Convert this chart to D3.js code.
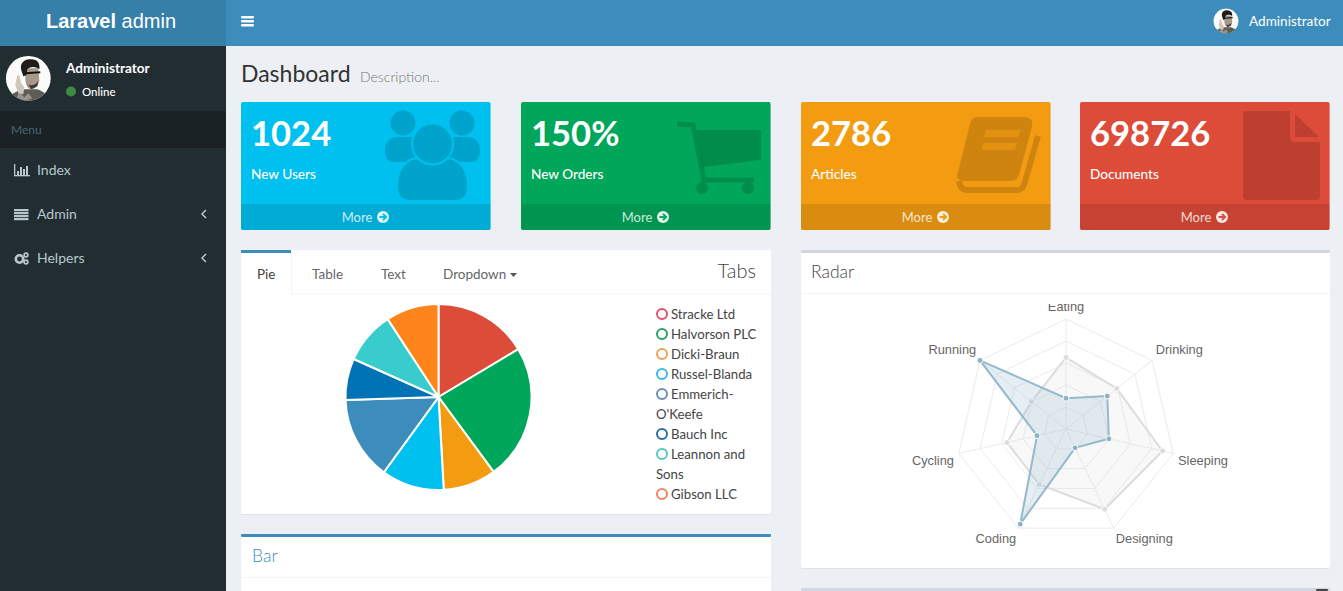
<!DOCTYPE html>
<html>
<head>
<meta charset="utf-8">
<title>Laravel admin</title>
<script src="https://cdn.jsdelivr.net/npm/d3@7"></script>
<style>
    html, body { margin: 0; padding: 0; background: #ecf0f5; overflow: hidden; }
    svg { display: block; }
    text { font-family: Lato, "Noto Sans", sans-serif; }
    .chart-label { font-family: "Liberation Sans", Arial, sans-serif; font-size: 12.8px; fill: #666; }
</style>
</head>
<body>
<script>
// Stat boxes
const statValues = ["1024", "150%", "2786", "698726"];
const statLabels = ["New Users", "New Orders", "Articles", "Documents"];
const statColors = ["#00c0ef", "#00a65a", "#f39c12", "#dd4b39"];

// Sidebar menu
const menuLabels = ["Index", "Admin", "Helpers"];

// Pie (shares, in percent)
const pieLabels = ["Stracke Ltd", "Halvorson PLC", "Dicki-Braun", "Russel-Blanda", "Emmerich-O'Keefe", "Bauch Inc", "Leannon and Sons", "Gibson LLC"];
const pieValues = [16.4, 23.5, 9.2, 10.9, 14.5, 7.2, 9.1, 9.2];
const pieColors = ["#dd4b39", "#00a65a", "#f39c12", "#00c0ef", "#3c8dbc", "#0073b7", "#39cccc", "#ff851b"];
const legendColors = ["#e2526b", "#2e9e68", "#f0a05a", "#3fb5ec", "#6f8db5", "#2a6ea8", "#55c8c0", "#ee8566"];
const legendLines = [["Stracke Ltd"], ["Halvorson PLC"], ["Dicki-Braun"], ["Russel-Blanda"], ["Emmerich-", "O'Keefe"], ["Bauch Inc"], ["Leannon and", "Sons"], ["Gibson LLC"]];

// Radar
const radarLabels = ["Eating", "Drinking", "Sleeping", "Designing", "Coding", "Cycling", "Running"];
const radarSeriesA = [65, 59, 90, 81, 56, 55, 40];
const radarSeriesB = [28, 48, 40, 19, 96, 27, 100];
const radarTicks = [20, 40, 60, 80, 100];

var width = 1343, height = 591;

var svg = d3.select("body").append("svg")
    .attr("width", width)
    .attr("height", height);

function addRect(parent, x, y, w, h, fill, rx) {
    return parent.append("rect")
        .attr("x", x).attr("y", y)
        .attr("width", w).attr("height", h)
        .attr("rx", rx || 0)
        .attr("fill", fill);
}

function addText(parent, x, y, str, size, fill, weight, anchor) {
    return parent.append("text")
        .attr("x", x).attr("y", y)
        .attr("font-size", size)
        .attr("font-weight", weight || 400)
        .attr("text-anchor", anchor || "start")
        .attr("fill", fill)
        .text(str);
}

// Small portrait, there is no photo file to load
function drawAvatar(parent, cx, cy, r, clipId) {
    parent.append("clipPath").attr("id", clipId)
        .append("circle").attr("cx", cx).attr("cy", cy).attr("r", r);
    var g = parent.append("g")
        .attr("clip-path", "url(#" + clipId + ")")
        .append("g")
        .attr("transform", "translate(" + cx + "," + cy + ") scale(" + r / 22.4 + ")");
    g.append("circle").attr("r", 23).attr("fill", "#fbfbfa");
    // shoulders
    g.append("path").attr("d", "M-20 24 C-18 14 -10 12 -3 11 L9 11 C15 13 20 16 20 24 Z").attr("fill", "#5f5b55");
    g.append("path").attr("d", "M-9 14 L-4 19 L0 15 L4 20 L-4 23 L-12 20 Z").attr("fill", "#9a948b");
    // raised hand
    g.append("path").attr("d", "M-11 -3 L-9 -3 L-7 5 L-4 9 L-5 16 L-10 15 L-13 7 Z").attr("fill", "#cfc6bd");
    // face and neck
    g.append("path").attr("d", "M-3 -10 L10 -10 L11 2 C10 8 6 11 2 11 C-1 10 -3 5 -3 0 Z").attr("fill", "#a8978b");
    // hair
    g.append("path").attr("d", "M-7 -8 C-9 -16 -3 -20 3 -19 C9 -19 12 -15 11 -9 C7 -12 2 -12 -1 -9 L-2 -3 L-5 -2 Z").attr("fill", "#1f1d1c");
    // glasses and beard
    g.append("path").attr("d", "M-3 -5 L12 -6").attr("stroke", "#141312").attr("stroke-width", 2);
    g.append("path").attr("d", "M0 6 C3 8 7 7 10 3 L9 8 L3 11 Z").attr("fill", "#3f3732");
}

// ---- Page frame ----
addRect(svg, 0, 0, width, height, "#ecf0f5");
addRect(svg, 226, 0, width - 226, 46, "#3c8dbc");
addRect(svg, 0, 0, 226, 46, "#367fa9");
addRect(svg, 0, 46, 226, height - 46, "#222d32");
addRect(svg, 0, 111, 226, 37, "#1a2226");

var logo = addText(svg, 111, 28, "", 20, "#fff", 400, "middle")
    .style("font-family", "'Liberation Sans', Arial, sans-serif");
logo.append("tspan").attr("font-weight", 700).text("Laravel");
logo.append("tspan").text(" admin");

[16, 20, 24].forEach(function(y) { addRect(svg, 241, y, 13, 2.4, "#fff", 1); });

drawAvatar(svg, 1226, 21, 12.5, "avatarTop");
addText(svg, 1249, 26, "Administrator", 13.6, "#fff");

// ---- Sidebar ----
drawAvatar(svg, 28.3, 78.3, 22.4, "avatarSide");
addText(svg, 66, 73, "Administrator", 13.6, "#fff", 700);
svg.append("circle").attr("cx", 71).attr("cy", 91.5).attr("r", 5).attr("fill", "#3d8b40");
addText(svg, 82, 96, "Online", 11.5, "#fff", 500);
addText(svg, 11, 134, "Menu", 12, "#4b646f");

var menuY = d3.scalePoint().domain(menuLabels).range([170, 258]);
menuLabels.forEach(function(label) {
    var y = menuY(label);
    addText(svg, 37, y + 5, label, 14, "#b8c7ce");
    if (label !== "Index") {
        svg.append("path")
            .attr("d", "M206 " + (y - 4) + " L202 " + y + " L206 " + (y + 4))
            .attr("fill", "none").attr("stroke", "#b8c7ce").attr("stroke-width", 1.5);
    }
});

// menu icons
var iconIndex = svg.append("g").attr("fill", "#b8c7ce");
addRect(iconIndex, 14, 164, 1.3, 12, "#b8c7ce");
addRect(iconIndex, 14, 175, 16, 1.3, "#b8c7ce");
[[17, 171, 4], [20, 167, 8], [23, 169, 6], [26, 166, 9]].forEach(function(b) {
    addRect(iconIndex, b[0], b[1], 2, b[2], "#b8c7ce");
});
[209, 212, 215, 218].forEach(function(y) {
    addRect(svg, 14, y, 14.5, 2.2, "#b8c7ce");
});
svg.append("circle").attr("cx", 19.5).attr("cy", 259).attr("r", 3.7)
    .attr("fill", "none").attr("stroke", "#b8c7ce").attr("stroke-width", 2.6);
svg.append("circle").attr("cx", 26).attr("cy", 255).attr("r", 1.9)
    .attr("fill", "none").attr("stroke", "#b8c7ce").attr("stroke-width", 1.6);
svg.append("circle").attr("cx", 26).attr("cy", 262).attr("r", 1.9)
    .attr("fill", "none").attr("stroke", "#b8c7ce").attr("stroke-width", 1.6);

// ---- Heading ----
addText(svg, 241, 82, "Dashboard", 23, "#333");
addText(svg, 360, 82, "Description...", 14, "#777", 300);

// ---- Stat boxes ----
var statX = [241, 521, 801, 1080];
var statW = 249.6;

function iconUsers(g) {
    var dark = "#00a3cb", bg = "#00c0ef";
    g.append("circle").attr("cx", 403).attr("cy", 123).attr("r", 12.5).attr("fill", dark);
    g.append("circle").attr("cx", 462).attr("cy", 123).attr("r", 12.5).attr("fill", dark);
    g.append("path").attr("fill", dark).attr("d", "M385 150 C385 141 391 137 398 137 L418 137 L418 162 L394 162 C388 162 385 158 385 150 Z");
    g.append("path").attr("fill", dark).attr("d", "M480 150 C480 141 474 137 467 137 L447 137 L447 162 L471 162 C477 162 480 158 480 150 Z");
    g.append("path").attr("fill", dark).attr("stroke", bg).attr("stroke-width", 2)
        .attr("d", "M397 186 C397 170 406 158 418 158 L446 158 C459 158 468 170 468 186 C468 196 463 201 455 201 L410 201 C402 201 397 196 397 186 Z");
    g.append("circle").attr("cx", 432.5).attr("cy", 144).attr("r", 20.5)
        .attr("fill", dark).attr("stroke", bg).attr("stroke-width", 2);
}

function iconCart(g) {
    g.append("path").attr("d", "M697 130 L761 130 L761 160 L703 167 Z");
    g.append("path").attr("d", "M677 124 L693 125 L704 180 L754 180").attr("fill", "none")
        .attr("stroke", "#00000026").attr("stroke-width", 5);
    g.append("circle").attr("cx", 702).attr("cy", 188).attr("r", 6);
    g.append("circle").attr("cx", 748).attr("cy", 188).attr("r", 6);
}

function iconBook(g) {
    g.append("path").attr("d", "M977 117 L1024 117 Q1034 117 1032 127 L1019 175 Q1017 181 1010 181 L966 181 Q958 182 957 176 L970 124 Q972 117 977 117 Z");
    g.append("path").attr("d", "M1038 136 L1024 185 Q1022 190 1016 190 L968 190 Q960 190 959 181")
        .attr("fill", "none").attr("stroke", "#00000026").attr("stroke-width", 6);
    g.append("path").attr("d", "M986 130 L1021 130 L1018 137 L984 137 Z").attr("fill", "#f39c12").attr("opacity", 0.55);
    g.append("path").attr("d", "M983 143 L1017 143 L1015 150 L981 150 Z").attr("fill", "#f39c12").attr("opacity", 0.55);
}

function iconFile(g) {
    g.append("path").attr("d", "M1247 111 L1290 111 L1290 137 Q1290 142 1295 142 L1320 142 L1320 196 Q1320 200 1316 200 L1247 200 Q1243 200 1243 196 L1243 115 Q1243 111 1247 111 Z");
    g.append("path").attr("d", "M1295 114 L1319 137 L1295 137 Z");
}

var statIcons = [iconUsers, iconCart, iconBook, iconFile];

statValues.forEach(function(value, i) {
    var x = statX[i];
    var box = svg.append("g");
    addRect(box, x, 102, statW, 128, statColors[i], 2);
    statIcons[i](box.append("g").attr("fill", "#00000026"));
    addRect(box, x, 204, statW, 26, "#0000001a", 0);
    addText(box, x + 10, 146, value, 34.6, "#fff", 700);
    addText(box, x + 10, 179, statLabels[i], 13.6, "#fff", 500);
    addText(box, x + 116, 222, "More", 13, "#ffffffd0", 400, "middle");
    box.append("circle").attr("cx", x + 142).attr("cy", 217).attr("r", 6).attr("fill", "#ffffffe0");
    box.append("path")
        .attr("d", "M" + (x + 138.5) + " 217 L" + (x + 145) + " 217 M" + (x + 142) + " 213.8 L" + (x + 145.2) + " 217 L" + (x + 142) + " 220.2")
        .attr("stroke", statColors[i]).attr("stroke-width", 1.8).attr("fill", "none");
});

// ---- Boxes below the stats ----
function addBox(x, y, w, h, topColor) {
    var g = svg.append("g");
    addRect(g, x, y + 1, w, h, "#dfe3e8", 2);
    addRect(g, x, y, w, h, "#fff", 2);
    if (topColor) addRect(g, x, y, w, 3, topColor, 1);
    return g;
}

// Tabs box with the pie
var tabsBox = addBox(241, 250, 530, 264);
addRect(tabsBox, 241, 250, 50, 3, "#3c8dbc");
addRect(tabsBox, 291, 253, 1, 41, "#f4f4f4");
addRect(tabsBox, 291, 293.5, 480, 1, "#f4f4f4");
addText(tabsBox, 257, 279, "Pie", 13.5, "#444");
addText(tabsBox, 312, 279, "Table", 13.5, "#666");
addText(tabsBox, 381, 279, "Text", 13.5, "#666");
addText(tabsBox, 443, 279, "Dropdown", 13.5, "#666");
tabsBox.append("path").attr("d", "M510 273 L517 273 L513.5 277 Z").attr("fill", "#555");
addText(tabsBox, 756, 278, "Tabs", 20, "#444", 300, "end");

var pie = d3.pie().sort(null)(pieValues);
var arc = d3.arc().innerRadius(0).outerRadius(93);
tabsBox.append("g")
    .attr("transform", "translate(438.5,397)")
    .selectAll("path")
    .data(pie)
    .enter().append("path")
    .attr("d", arc)
    .attr("fill", function(d, i) { return pieColors[i]; })
    .attr("stroke", "#fff")
    .attr("stroke-width", 2);

// Legend, rows wrap like the original list
var legendRow = 0;
legendLines.forEach(function(lines, i) {
    lines.forEach(function(line, j) {
        var y = 314 + legendRow * 20;
        if (j === 0) {
            tabsBox.append("circle")
                .attr("cx", 662).attr("cy", y).attr("r", 5)
                .attr("fill", "none")
                .attr("stroke", legendColors[i])
                .attr("stroke-width", 2);
        }
        addText(tabsBox, j === 0 ? 671 : 656, y + 5, line, 13.2, "#444");
        legendRow++;
    });
});

// Bar box, only its heading is in view
var barBox = addBox(241, 534, 530, 70, "#3c8dbc");
addText(barBox, 252, 562, "Bar", 17.5, "#3c8dbc", 300);
addRect(barBox, 241, 577, 530, 1, "#f4f4f4");

// Radar box
var radarBox = addBox(801, 250, 529, 318, "#d2d6de");
addText(radarBox, 811, 278, "Radar", 17.5, "#444", 300);
addRect(radarBox, 801, 293, 529, 1, "#f4f4f4");

// Next box just starting at the bottom edge
addRect(svg, 801, 588, 529, 3, "#d2d6de", 1);
addRect(svg, 1316, 589, 12, 2, "#444", 1);

// ---- Radar chart ----
// the canvas in the original cuts the top of the "Eating" label
svg.append("clipPath").attr("id", "radarClip")
    .append("rect").attr("x", 802).attr("y", 304).attr("width", 527).attr("height", 263);

var radar = radarBox.append("g")
    .attr("clip-path", "url(#radarClip)")
    .append("g")
    .attr("transform", "translate(1066,429)");

var rScale = d3.scaleLinear().domain([0, 100]).range([0, 110]);
var angle = d3.scalePoint().domain(radarLabels).range([0, 2 * Math.PI * 6 / 7]);

var radial = d3.lineRadial()
    .angle(function(d, i) { return angle(radarLabels[i]); })
    .radius(function(d) { return rScale(d); })
    .curve(d3.curveLinearClosed);

// grid rings and spokes
radarTicks.forEach(function(t) {
    radar.append("path")
        .attr("d", radial(radarLabels.map(function() { return t; })))
        .attr("fill", "none")
        .attr("stroke", "#ebebeb");
});
radarLabels.forEach(function(label) {
    var a = angle(label);
    radar.append("line")
        .attr("x2", rScale(100) * Math.sin(a))
        .attr("y2", -rScale(100) * Math.cos(a))
        .attr("stroke", "#ebebeb");
});

function drawSeries(values, fill, stroke, dotColor) {
    radar.append("path")
        .attr("d", radial(values))
        .attr("fill", fill)
        .attr("stroke", stroke)
        .attr("stroke-width", 2);
    radar.selectAll(null)
        .data(values)
        .enter().append("circle")
        .attr("cx", function(d, i) { return rScale(d) * Math.sin(angle(radarLabels[i])); })
        .attr("cy", function(d, i) { return -rScale(d) * Math.cos(angle(radarLabels[i])); })
        .attr("r", 3)
        .attr("fill", dotColor)
        .attr("stroke", "#fff")
        .attr("stroke-width", 1);
}

drawSeries(radarSeriesA, "rgba(220,220,220,0.2)", "#dcdcdc", "#dcdcdc");
drawSeries(radarSeriesB, "rgba(151,187,205,0.25)", "#94b9cc", "#8fb3c6");

// point labels sit just past the end of each spoke
radarLabels.forEach(function(label) {
    var a = angle(label);
    var sx = Math.sin(a), cy = Math.cos(a);
    radar.append("text")
        .attr("class", "chart-label")
        .attr("x", rScale(104.5) * sx)
        .attr("y", -rScale(104.5) * cy + (cy > 0.5 ? -3 : 10))
        .attr("text-anchor", Math.abs(sx) < 0.01 ? "middle" : (sx > 0 ? "start" : "end"))
        .text(label);
});
</script>
</body>
</html>
